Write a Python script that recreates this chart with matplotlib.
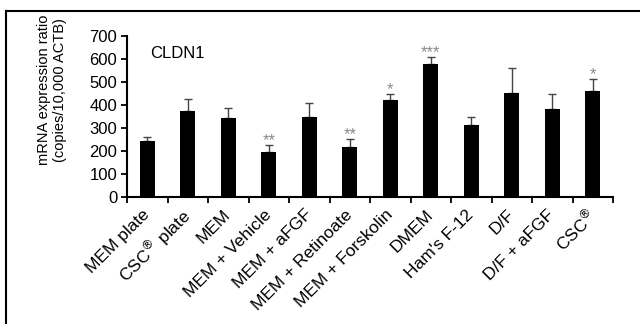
import numpy as np
import matplotlib
matplotlib.use("Agg")
import matplotlib.pyplot as plt
from matplotlib.lines import Line2D

plt.rcParams['font.family'] = ['Liberation Sans', 'DejaVu Sans']

condicoes = ["MEM plate", "CSC$^{®}$ plate", "MEM", "MEM + Vehicle", "MEM + aFGF",
             "MEM + Retinoate", "MEM + Forskolin", "DMEM", "Ham's F-12", "D/F",
             "D/F + aFGF", "CSC$^{®}$"]
media = [245, 375, 342, 197, 350, 217, 421, 579, 311, 454, 382, 462]
erro = [14, 53, 44, 27, 57, 35, 28, 30, 35, 105, 67, 50]
signif = ["", "", "", "**", "", "**", "*", "***", "", "", "", "*"]

fig = plt.figure(figsize=(6.4, 3.24), dpi=100)
ax = fig.add_axes([127 / 640, 1 - 197 / 324, 486 / 640, 161 / 324])

x = np.arange(len(condicoes))
ax.bar(x, media, width=0.37, color='black', zorder=2)
ax.errorbar(x, media, yerr=[np.zeros(len(erro)), erro], fmt='none',
            ecolor='#444444', elinewidth=1.0, capsize=2.6, capthick=1.0, zorder=1)

for xi, m, e, s in zip(x, media, erro, signif):
    if s:
        ax.annotate(s, (xi, m + e), xytext=(0, 0), textcoords='offset points',
                    ha='center', va='baseline', fontsize=12, color='#8a8a8a')

ax.set_xlim(-0.5, len(condicoes) - 0.5)
ax.set_ylim(0, 700)
ax.set_yticks(range(0, 701, 100))
ax.set_xticks(x)
ax.set_xticklabels(condicoes, rotation=45, ha='right', va='center',
                   rotation_mode='anchor', fontsize=12.5)
ax.set_xticks(np.arange(-0.5, len(condicoes), 1), minor=True)
ax.tick_params(axis='x', which='major', length=0, pad=11)
ax.tick_params(axis='x', which='minor', length=4, width=1.3, direction='out')
ax.tick_params(axis='y', length=4, width=1.3, direction='out', labelsize=12, pad=3)

for lado in ['top', 'right']:
    ax.spines[lado].set_visible(False)
for lado in ['left', 'bottom']:
    ax.spines[lado].set_linewidth(1.5)

fig.text(52 / 640, 1 - 90 / 324, "mRNA expression ratio\n(copies/10,000 ACTB)",
         rotation=90, ha='center', va='center', fontsize=10.5, linespacing=1.2)
ax.text(150 / 640, 1 - 53 / 324, "CLDN1", transform=fig.transFigure,
        fontsize=12, va='center')

# moldura do painel (apenas topo e esquerda)
fig.add_artist(Line2D([6 / 640, 1], [1 - 10.5 / 324, 1 - 10.5 / 324], color='black', lw=1.5))
fig.add_artist(Line2D([6 / 640, 6 / 640], [0, 1 - 10.5 / 324], color='black', lw=1.5))

fig.savefig("out.png", dpi=100)
